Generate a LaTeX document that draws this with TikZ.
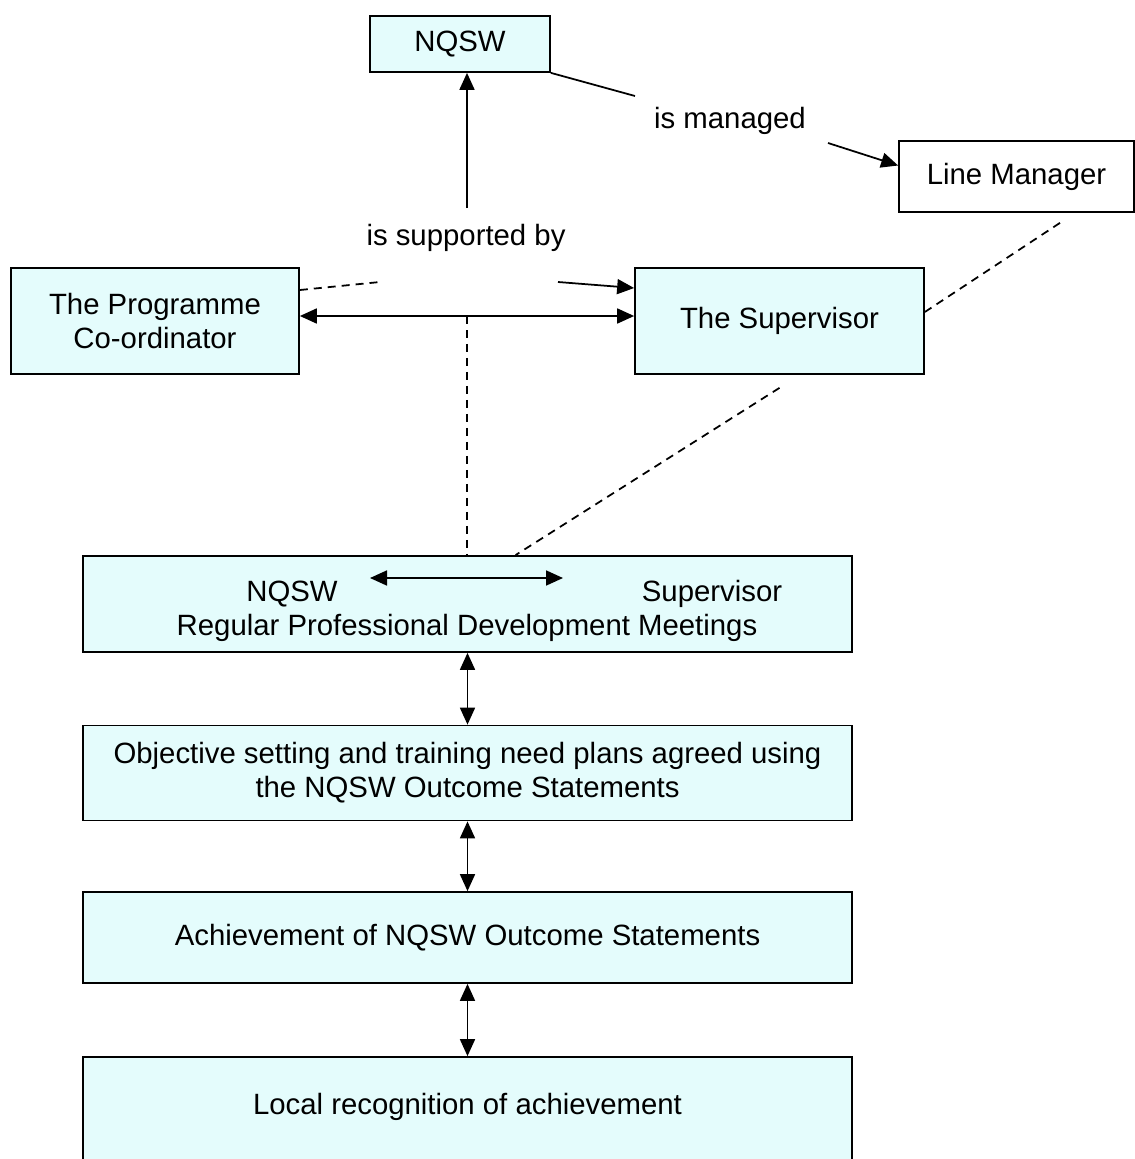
\documentclass[tikz,border=0pt]{standalone}
\usepackage{fontspec}
\setmainfont{Liberation Sans}
\usetikzlibrary{arrows.meta}
\definecolor{pale}{RGB}{228,252,252}

\tikzset{
  cyanbox/.style={draw,fill=pale,line width=1pt,align=center,inner sep=0pt},
  whitebox/.style={draw,fill=white,line width=1pt,align=center,inner sep=0pt},
  lbl/.style={inner sep=0pt,align=center},
  arrowline/.style={line width=1pt,-{Triangle[length=0.34cm,width=0.3cm]}},
  twoway/.style={line width=1pt,{Triangle[length=0.34cm,width=0.3cm]}-{Triangle[length=0.34cm,width=0.3cm]}},
  dashline/.style={line width=1pt,dash pattern=on 0.16cm off 0.12cm}
}

\begin{document}
\begin{tikzpicture}[x=0.02cm,y=-0.02cm,font=\fontsize{16.7}{19.4}\selectfont]
  \useasboundingbox (0,0) rectangle (1134,1159);

  % top part
  \node[cyanbox,minimum width=3.6cm,minimum height=1.12cm] (nqsw) at (460,44) {NQSW};
  \node[whitebox,minimum width=4.7cm,minimum height=1.42cm] (lm) at (1016.5,176.5) {Line Manager};
  \node[lbl] (man) at (730,121) {is managed};
  \node[lbl] (supby) at (466,238) {is supported by};
  \node[cyanbox,minimum width=5.76cm,minimum height=2.12cm] (coord) at (155,321) {The Programme\\Co-ordinator};
  \node[cyanbox,minimum width=5.78cm,minimum height=2.12cm] (sup) at (779.5,321) {The Supervisor};

  \coordinate (manl) at (635,96);
  \coordinate (manr) at (828,143);
  \coordinate (sbt) at (467,208);
  \coordinate (sbl) at (380,282);
  \coordinate (sbr) at (558,282);
  \coordinate (hub) at (467,316);

  \draw[line width=1pt] (nqsw.south east) -- (manl);
  \draw[arrowline] (manr) -- ([yshift=0.22cm]lm.west);
  \draw[arrowline] (sbt) -- (sbt |- nqsw.south);
  \draw[dashline] ([yshift=0.62cm]coord.east) -- (sbl);
  \draw[arrowline] (sbr) -- ([yshift=0.66cm]sup.west);
  \draw[twoway] ([yshift=0.1cm]coord.east) -- ([yshift=0.1cm]sup.west);

  % the chain of steps
  \node[cyanbox,minimum width=15.38cm,minimum height=1.92cm] (meet) at (467.5,604) {};
  \node[lbl] (mq) at (292,594) {NQSW};
  \node[lbl] (ms) at (712,594) {Supervisor};
  \node[lbl] (mt) at (467,628) {Regular Professional Development Meetings};
  \node[cyanbox,minimum width=15.38cm,minimum height=1.9cm] (obj) at (467.5,773)
    {Objective setting and training need plans agreed using\\the NQSW Outcome Statements};
  \node[cyanbox,minimum width=15.38cm,minimum height=1.82cm] (ach) at (467.5,937.5)
    {Achievement of NQSW Outcome Statements};
  \node[cyanbox,minimum width=15.38cm,text height=1.14cm,text depth=1.1cm,anchor=base] (loc) at (467.5,1114)
    {Local recognition of achievement};

  \coordinate (ma) at (370,578);
  \coordinate (mb) at (563,578);
  \draw[twoway] (ma) -- (mb);

  \draw[dashline] (hub) -- (hub |- meet.north);
  \draw[dashline] ([xshift=0.87cm,yshift=-0.2cm]lm.south) -- ([yshift=0.18cm]sup.east);
  \draw[dashline] ([yshift=-0.26cm]sup.south) -- ([xshift=0.96cm]meet.north);

  \foreach \a/\b in {meet/obj,obj/ach,ach/loc}
    \draw[twoway] (\a) -- (\b);
\end{tikzpicture}
\end{document}
